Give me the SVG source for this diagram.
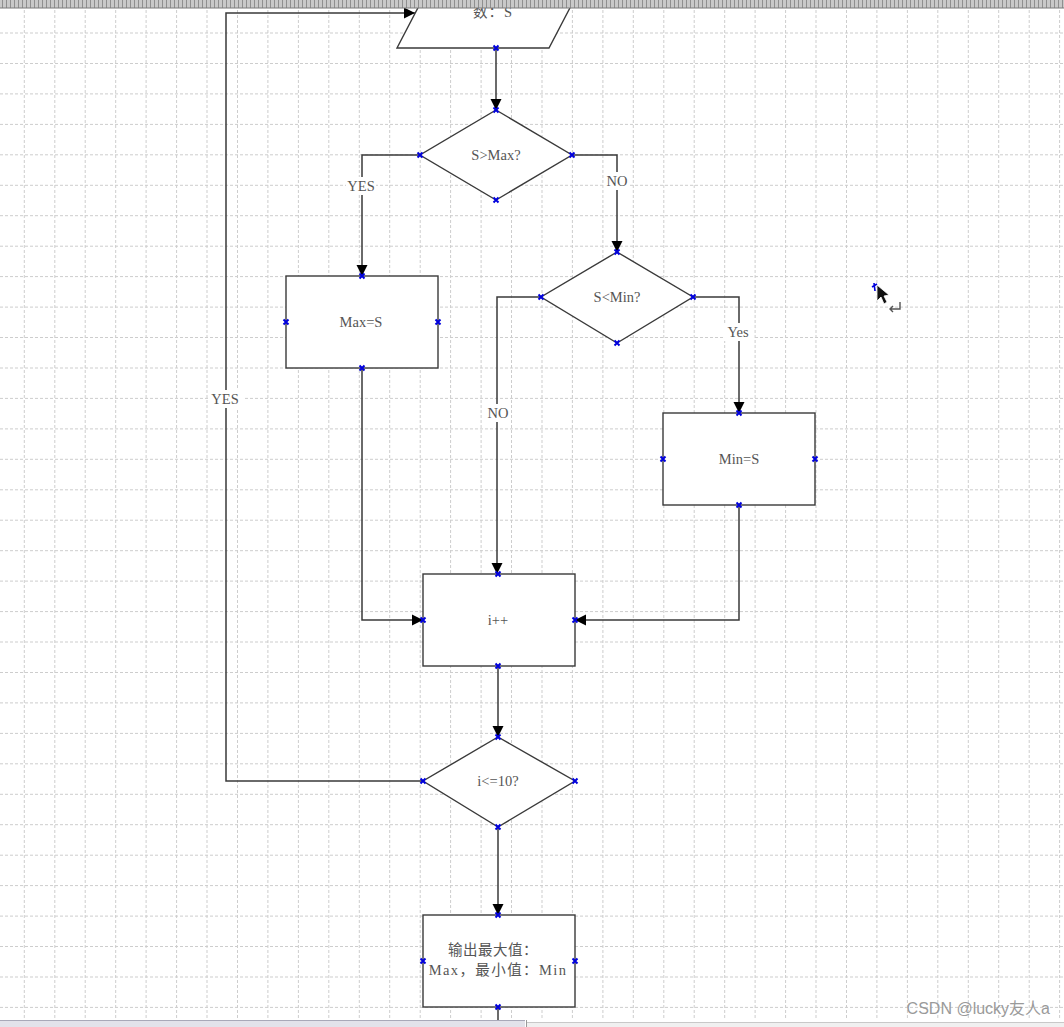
<svg xmlns="http://www.w3.org/2000/svg" width="1064" height="1027" viewBox="0 0 1064 1027">
<defs>
<style>
.grid{stroke:#cdcdcd;stroke-width:1;stroke-dasharray:3 2;fill:none}
.shape{fill:#ffffff;stroke:#3a3a3a;stroke-width:1.4}
.conn{fill:none;stroke:#3a3a3a;stroke-width:1.5}
.lbl{font-family:"Liberation Serif","Noto Sans CJK SC",serif;font-size:14.5px;fill:#555555;text-anchor:middle}
.elbl{font-family:"Liberation Serif","Noto Sans CJK SC",serif;font-size:14.5px;fill:#555555;text-anchor:middle}
.lblbg{fill:#ffffff}
.mk{stroke:#0000dd;stroke-width:2;fill:none}
</style>
<marker id="arr" viewBox="0 0 10 10" refX="10" refY="5" markerWidth="11" markerHeight="12" markerUnits="userSpaceOnUse" orient="auto">
<path d="M0,0 L10,5 L0,10 Z" fill="#000000"/>
</marker>
<pattern id="ruler" x="0" y="0" width="4" height="8" patternUnits="userSpaceOnUse">
<rect width="4" height="8" fill="#c9c9c9"/>
<rect x="2" width="1" height="8" fill="#8f8f8f"/>
</pattern>
<g id="m"><path class="mk" d="M-2.5,-2.5 L2.5,2.5 M-2.5,2.5 L2.5,-2.5"/></g>
</defs>
<rect width="1064" height="1027" fill="#ffffff"/>
<g id="grid">
<path class="grid" d="M24.3,0V1020M54.8,0V1020M85.2,0V1020M115.7,0V1020M146.1,0V1020M176.6,0V1020M207,0V1020M237.5,0V1020M267.9,0V1020M298.4,0V1020M328.8,0V1020M359.3,0V1020M389.7,0V1020M420.2,0V1020M450.6,0V1020M481.1,0V1020M511.5,0V1020M542,0V1020M572.4,0V1020M602.9,0V1020M633.3,0V1020M663.8,0V1020M694.2,0V1020M724.7,0V1020M755.1,0V1020M785.6,0V1020M816,0V1020M846.5,0V1020M876.9,0V1020M907.4,0V1020M937.8,0V1020M968.3,0V1020M998.7,0V1020M1029.2,0V1020M1059.6,0V1020"/>
<path class="grid" d="M0,33H1064M0,63.5H1064M0,93.9H1064M0,124.4H1064M0,154.8H1064M0,185.3H1064M0,215.7H1064M0,246.2H1064M0,276.6H1064M0,307.1H1064M0,337.5H1064M0,368H1064M0,398.4H1064M0,428.9H1064M0,459.3H1064M0,489.8H1064M0,520.2H1064M0,550.7H1064M0,581.1H1064M0,611.6H1064M0,642H1064M0,672.5H1064M0,702.9H1064M0,733.4H1064M0,763.8H1064M0,794.3H1064M0,824.7H1064M0,855.2H1064M0,885.6H1064M0,916.1H1064M0,946.5H1064M0,977H1064M0,1007.4H1064"/>
</g>
<g id="connectors">
<path class="conn" d="M496,48 V110" marker-end="url(#arr)"/>
<path class="conn" d="M420,155 H362 V276" marker-end="url(#arr)"/>
<path class="conn" d="M572,155 H617 V252" marker-end="url(#arr)"/>
<path class="conn" d="M541,297 H497 V574" marker-end="url(#arr)"/>
<path class="conn" d="M693,297 H739 V413" marker-end="url(#arr)"/>
<path class="conn" d="M362,368 V620 H423" marker-end="url(#arr)"/>
<path class="conn" d="M739,505 V620 H575" marker-end="url(#arr)"/>
<path class="conn" d="M498,666 V737" marker-end="url(#arr)"/>
<path class="conn" d="M423,781 H226 V13 H415" marker-end="url(#arr)"/>
<path class="conn" d="M498,827 V915" marker-end="url(#arr)"/>
<path class="conn" d="M498,1007 V1022"/>
<rect class="lblbg" x="346" y="177" width="30" height="18"/>
<text class="elbl" x="361" y="191">YES</text>
<rect class="lblbg" x="605" y="172" width="24" height="18"/>
<text class="elbl" x="617" y="186">NO</text>
<rect class="lblbg" x="485" y="404" width="26" height="18"/>
<text class="elbl" x="498" y="418">NO</text>
<rect class="lblbg" x="724" y="323" width="30" height="18"/>
<text class="elbl" x="738" y="337">Yes</text>
<rect class="lblbg" x="209" y="390" width="34" height="18"/>
<text class="elbl" x="225" y="404">YES</text>
</g>
<g id="node-input">
<polygon class="shape" points="397,48 549,48 573,2 421,2"/>
<text class="lbl" x="493" y="17" letter-spacing="1">数：S</text>
<use href="#m" x="496" y="48"/>
</g>
<g id="node-smax">
<polygon class="shape" points="496,110 572,155 496,200 420,155"/>
<text class="lbl" x="496" y="160">S&gt;Max?</text>
<use href="#m" x="496" y="110"/><use href="#m" x="572" y="155"/><use href="#m" x="496" y="200"/><use href="#m" x="420" y="155"/>
</g>
<g id="node-smin">
<polygon class="shape" points="617,252 693,297 617,343 541,297"/>
<text class="lbl" x="617" y="302">S&lt;Min?</text>
<use href="#m" x="617" y="252"/><use href="#m" x="693" y="297"/><use href="#m" x="617" y="343"/><use href="#m" x="541" y="297"/>
</g>
<g id="node-maxs">
<rect class="shape" x="286" y="276" width="152" height="92"/>
<text class="lbl" x="361" y="327">Max=S</text>
<use href="#m" x="362" y="276"/><use href="#m" x="438" y="322"/><use href="#m" x="362" y="368"/><use href="#m" x="286" y="322"/>
</g>
<g id="node-mins">
<rect class="shape" x="663" y="413" width="152" height="92"/>
<text class="lbl" x="739" y="464">Min=S</text>
<use href="#m" x="739" y="413"/><use href="#m" x="815" y="459"/><use href="#m" x="739" y="505"/><use href="#m" x="663" y="459"/>
</g>
<g id="node-inc">
<rect class="shape" x="423" y="574" width="152" height="92"/>
<text class="lbl" x="498" y="625">i++</text>
<use href="#m" x="498" y="574"/><use href="#m" x="575" y="620"/><use href="#m" x="498" y="666"/><use href="#m" x="423" y="620"/>
</g>
<g id="node-cond">
<polygon class="shape" points="498,737 575,781 498,827 423,781"/>
<text class="lbl" x="498" y="786">i&lt;=10?</text>
<use href="#m" x="498" y="737"/><use href="#m" x="575" y="781"/><use href="#m" x="498" y="827"/><use href="#m" x="423" y="781"/>
</g>
<g id="node-output">
<rect class="shape" x="423" y="915" width="152" height="92"/>
<text class="lbl" x="493" y="955" letter-spacing="0.5">输出最大值：</text>
<text class="lbl" x="498" y="975" letter-spacing="1.4">Max，最小值：Min</text>
<use href="#m" x="498" y="915"/><use href="#m" x="575" y="961"/><use href="#m" x="498" y="1007"/><use href="#m" x="423" y="961"/>
</g>
<g id="cursor">
<path d="M872,287 L877,284 M874,283 L875,291" stroke="#0000dd" stroke-width="1.6" fill="none"/>
<polygon points="877,285 877,301 881,297 884,304 887,302 884,296 889,295" fill="#111111" stroke="#ffffff" stroke-width="0.8"/>
<path d="M900,302 V309 H890 M893,306 L890,309 L893,312" stroke="#555555" stroke-width="1.4" fill="none"/>
</g>
<rect x="0" y="0" width="1064" height="8" fill="url(#ruler)"/>
<line x1="0" y1="8" x2="1064" y2="8" stroke="#7a7a7a" stroke-width="1"/>
<rect x="0" y="1020" width="525" height="7" fill="#e2e2ea"/>
<line x1="0" y1="1020.5" x2="525" y2="1020.5" stroke="#a8a8b8" stroke-width="1"/>
<rect x="527" y="1022" width="537" height="5" fill="#f0f0f0"/>
<line x1="527" y1="1022.5" x2="1064" y2="1022.5" stroke="#c8c8c8" stroke-width="1"/>
<line x1="526.5" y1="1020" x2="526.5" y2="1027" stroke="#999999" stroke-width="1"/>
<text x="1050" y="1014" font-family="'Liberation Sans','Noto Sans CJK SC',sans-serif" font-size="16" fill="#9a9a9a" text-anchor="end">CSDN @lucky友人a</text>
</svg>
